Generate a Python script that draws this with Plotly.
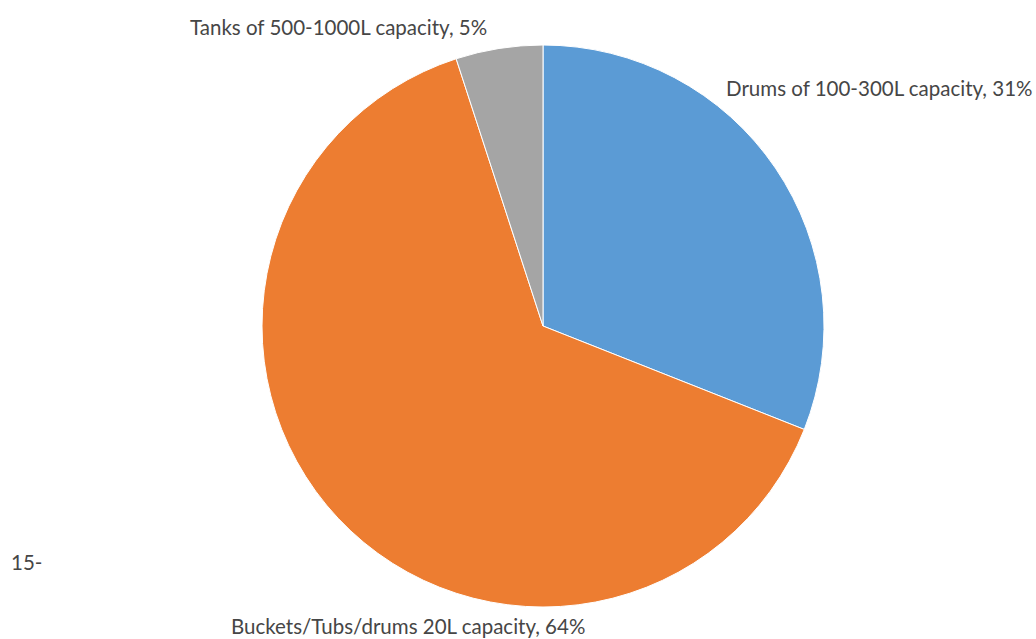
import plotly.graph_objects as go

# Storage containers used, share of households
categories = ["Drums of 100-300L capacity", "Buckets/Tubs/drums 20L capacity", "Tanks of 500-1000L capacity"]
shares = [31, 64, 5]
colors = ["#5B9BD5", "#ED7D31", "#A5A5A5"]

W, H = 1036, 639
cx, cy, r = 543, 326, 281

fig = go.Figure(go.Pie(
    labels=categories,
    values=shares,
    sort=False,
    direction="clockwise",
    rotation=0,
    marker=dict(colors=colors, line=dict(color="white", width=1)),
    textinfo="none",
    hoverinfo="label+percent",
    showlegend=False,
    domain=dict(x=[(cx - r) / W, (cx + r) / W], y=[(H - cy - r) / H, (H - cy + r) / H]),
))

font = dict(family="Lato, sans-serif", size=20.5, color="#464646")
label_pos = [
    (1034, 88, "right"),
    (408, 626, "center"),
    (338, 27, "center"),
]
annotations = []
for (x, y, anchor), name, v in zip(label_pos, categories, shares):
    annotations.append(dict(
        x=x / W, y=1 - y / H, xref="paper", yref="paper",
        text=f"{name}, {v}%", showarrow=False, xanchor=anchor, yanchor="middle", font=font,
    ))
annotations.append(dict(x=9 / W, y=1 - 562 / H, xref="paper", yref="paper", text="15-",
                        showarrow=False, xanchor="left", yanchor="middle", font=font))

fig.update_layout(
    width=W, height=H,
    margin=dict(l=0, r=0, t=0, b=0),
    paper_bgcolor="white", plot_bgcolor="white",
    annotations=annotations,
)

fig.write_html("out.html")
